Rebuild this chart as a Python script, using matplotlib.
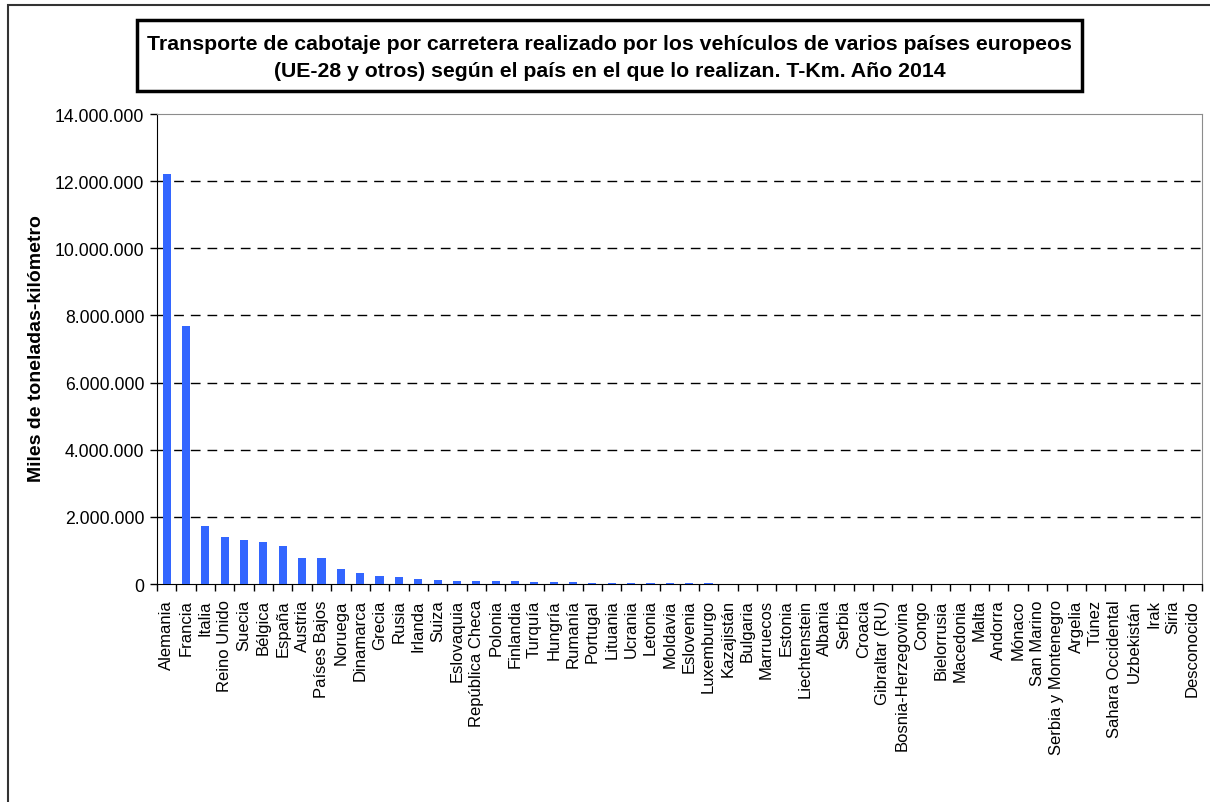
import matplotlib
matplotlib.use('Agg')
import matplotlib.pyplot as plt
from matplotlib.patches import Rectangle
from matplotlib.ticker import FuncFormatter
import numpy as np

plt.rcParams['font.family'] = ['Liberation Sans', 'DejaVu Sans']

paises = ['Alemania', 'Francia', 'Italia', 'Reino Unido', 'Suecia', 'Bélgica', 'España',
          'Austria', 'Países Bajos', 'Noruega', 'Dinamarca', 'Grecia', 'Rusia', 'Irlanda',
          'Suiza', 'Eslovaquia', 'República Checa', 'Polonia', 'Finlandia', 'Turquía',
          'Hungría', 'Rumanía', 'Portugal', 'Lituania', 'Ucrania', 'Letonia', 'Moldavia',
          'Eslovenia', 'Luxemburgo', 'Kazajistán', 'Bulgaria', 'Marruecos', 'Estonia',
          'Liechtenstein', 'Albania', 'Serbia', 'Croacia', 'Gibraltar (RU)',
          'Bosnia-Herzegovina', 'Congo', 'Bielorrusia', 'Macedonia', 'Malta', 'Andorra',
          'Mónaco', 'San Marino', 'Serbia y Montenegro', 'Argelia', 'Túnez',
          'Sahara Occidental', 'Uzbekistán', 'Irak', 'Siria', 'Desconocido']

tkm = [12220000, 7700000, 1740000, 1410000, 1320000, 1260000, 1140000,
       760000, 760000, 440000, 320000, 230000, 200000, 140000,
       110000, 85000, 80000, 80000, 85000, 55000,
       55000, 55000, 30000, 25000, 22000, 20000, 18000,
       16000, 15000, 5000, 4000, 3000, 2500,
       1500, 1000, 800, 600, 500,
       400, 300, 200, 150, 120, 100,
       80, 60, 50, 40, 30,
       20, 15, 10, 5, 3]

titulo = ('Transporte de cabotaje por carretera realizado por los vehículos de varios países europeos\n'
          '(UE-28 y otros) según el país en el que lo realizan. T-Km. Año 2014')

fig = plt.figure(figsize=(12.1, 8.03), dpi=100)
ax = fig.add_axes([157/1210, 1-585/803, (1202-157)/1210, (585-115)/803])

x = np.arange(len(paises))
ax.bar(x, tkm, width=0.42, color='#3366FF', zorder=3)

ax.set_xlim(-0.5, len(paises)-0.5)
ax.set_ylim(0, 14000000)
ax.set_yticks(range(0, 14000001, 2000000))
ax.yaxis.set_major_formatter(FuncFormatter(lambda v, p: '{:,.0f}'.format(v).replace(',', '.')))
ax.tick_params(axis='y', labelsize=12.7, length=5, width=1, direction='out', pad=4)

ax.set_xticks(x)
ax.set_xticklabels(paises, rotation=90, fontsize=12)
ax.tick_params(axis='x', which='major', length=0, pad=11)
ax.set_xticks(np.arange(-0.5, len(paises), 1), minor=True)
ax.tick_params(axis='x', which='minor', length=5, width=1, direction='out')

for y in range(2000000, 14000000, 2000000):
    ax.axhline(y, color='black', lw=1, dashes=(7, 5), zorder=1)

ax.spines['top'].set_color('#8c8c8c')
ax.spines['right'].set_color('#8c8c8c')
ax.spines['left'].set_color('black')
ax.spines['bottom'].set_color('black')

fig.text(37/1210, 1-349/803, 'Miles de toneladas-kilómetro', rotation=90,
         ha='center', va='center', fontsize=14, fontweight='bold')

# caja del titulo
fig.patches.append(Rectangle((137/1210, 1-92/803), (1082-137)/1210, (92-21)/803,
                             transform=fig.transFigure, fill=False, edgecolor='black', lw=2.5))
fig.text((137+1082)/2/1210, 1-58/803, titulo, ha='center', va='center',
         fontsize=15.3, fontweight='bold', linespacing=1.5)

# marco exterior
fig.patches.append(Rectangle((8/1210, -0.05), 1.1, 1.05-6/803,
                             transform=fig.transFigure, fill=False, edgecolor='#333333', lw=1.5))

fig.savefig('out.png', dpi=100)
